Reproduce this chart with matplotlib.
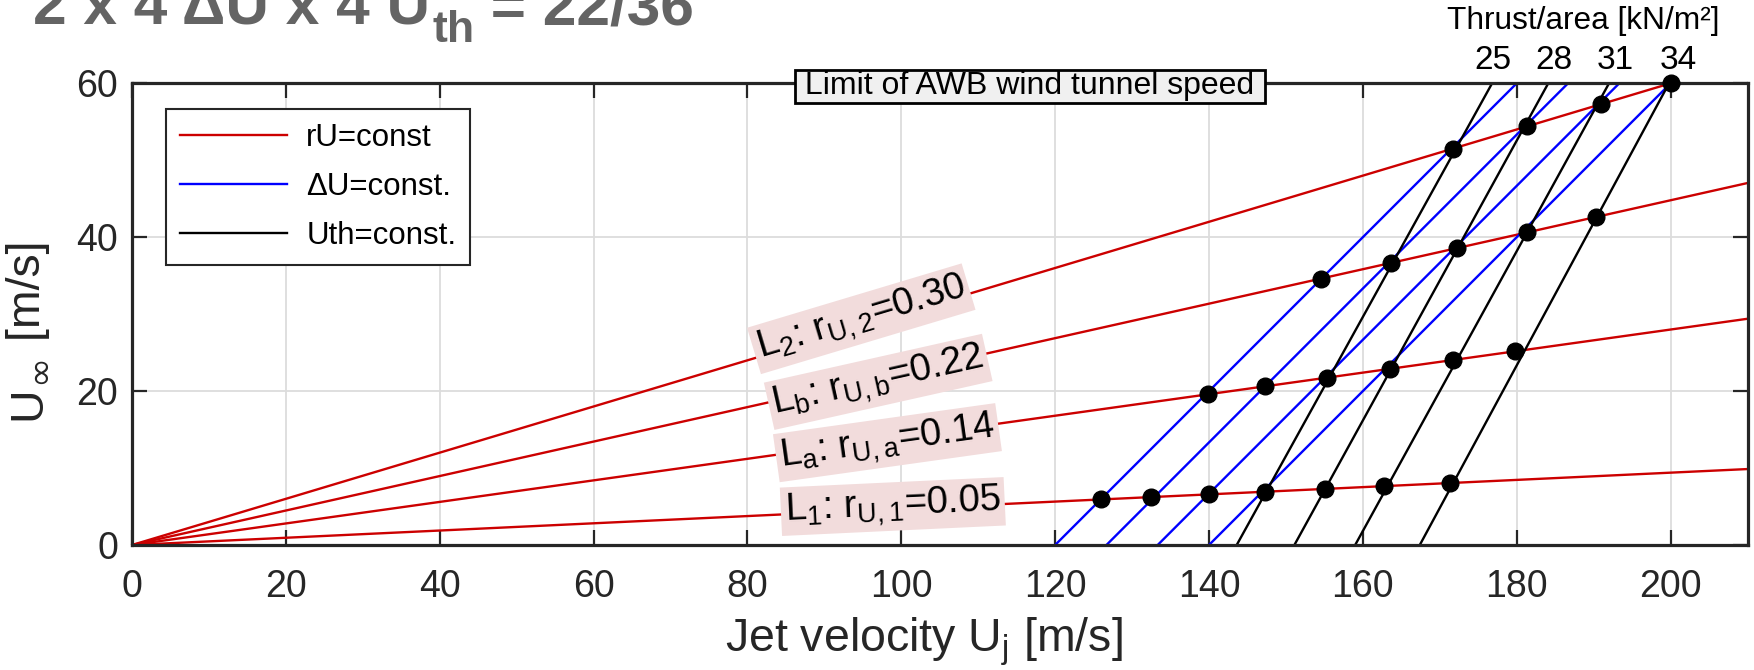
import matplotlib
matplotlib.use('Agg')
import matplotlib.pyplot as plt
from matplotlib.lines import Line2D
import numpy as np

plt.rcParams['font.family'] = ['Liberation Sans', 'DejaVu Sans']
plt.rcParams['mathtext.fontset'] = 'custom'
plt.rcParams['mathtext.rm'] = 'Liberation Sans'
plt.rcParams['mathtext.it'] = 'Liberation Sans:italic'
plt.rcParams['mathtext.bf'] = 'Liberation Sans:bold'

# ---------------- data ----------------
x_max = 210
y_max = 60
x_ticks = [0, 20, 40, 60, 80, 100, 120, 140, 160, 180, 200]
y_ticks = [0, 20, 40, 60]

# rU = const lines (U_inf / U_j)
ru_slopes = [0.047, 0.14, 0.224, 0.30]
ru_labels = [r'L$_{\mathrm{1}}$: r$_{\mathrm{U,1}}$=0.05',
             r'L$_{\mathrm{a}}$: r$_{\mathrm{U,a}}$=0.14',
             r'L$_{\mathrm{b}}$: r$_{\mathrm{U,b}}$=0.22',
             r'L$_{\mathrm{2}}$: r$_{\mathrm{U,2}}$=0.30']
ru_label_x = [98.9, 98.2, 97.0, 94.8]
ru_label_y = [5.0, 13.3, 21.2, 29.4]

# Delta U = const lines (U_j - U_inf)
du_values = [120.0, 126.67, 133.33, 140.0]

# U_th = const lines (read at U_inf = 0 and U_inf = 60)
uth_x_bottom = [143.6, 151.1, 159.0, 167.4]
uth_x_top = [176.8, 184.1, 192.0, 199.8]
thrust_values = ['25', '28', '31', '34']
thrust_label_x = [176.9, 184.9, 192.8, 201.0]

# operating points (U_j positions on each rU line)
dots_L1 = [126.0, 132.4, 140.0, 147.3, 155.1, 162.8, 171.3]
dots_La = [139.9, 147.3, 155.4, 163.5, 171.7, 179.8]
dots_Lb = [154.6, 163.6, 172.3, 181.3, 190.3]
dots_L2 = [171.7, 181.3, 190.9, 200.0]
dots_all = [dots_L1, dots_La, dots_Lb, dots_L2]

legend_labels = ['rU=const', 'ΔU=const.', 'Uth=const.']
title_parts = ['2 x 4 ΔU x 4 U', 'th', ' = 22/36']
ylabel_parts = ['U', '∞', ' [m/s]']

# ---------------- style ----------------
W, H = 1754, 670
fig = plt.figure(figsize=(W / 100, H / 100), dpi=100)
ax_l, ax_r, ax_b, ax_t = 132, 1747.5, 545, 83.3
ax = fig.add_axes([ax_l / W, 1 - ax_b / H, (ax_r - ax_l) / W, (ax_b - ax_t) / H])

RED = '#cc0000'
BLUE = '#0000ff'
AXC = '#262626'
FS_TICK = 27
FS_LAB = 33.5
LW = 1.7

for s in ru_slopes:
    ax.plot([0, x_max], [0, s * x_max], color=RED, lw=LW, zorder=3)
for du in du_values:
    ax.plot([du, du + y_max], [0, y_max], color=BLUE, lw=LW, zorder=3)
for xb, xt in zip(uth_x_bottom, uth_x_top):
    ax.plot([xb, xt], [0, y_max], color='black', lw=LW, zorder=3)

for s, d in zip(ru_slopes, dots_all):
    d = np.array(d)
    ax.plot(d, s * d, 'o', color='black', ms=12, zorder=6, clip_on=False)

for s, lab, lx, ly in zip(ru_slopes, ru_labels, ru_label_x, ru_label_y):
    ang = np.degrees(np.arctan(s))
    ax.text(lx, ly, lab, fontsize=27.5, rotation=ang, rotation_mode='anchor',
            ha='center', va='center', color='black', zorder=5,
            bbox=dict(boxstyle='square,pad=0.1', fc='#f2dcdc', ec='none'))

ax.text(116.7, 59.6, ' Limit of AWB wind tunnel speed ', fontsize=23,
        ha='center', va='center', color='black', zorder=7, clip_on=False,
        bbox=dict(boxstyle='square,pad=0.04', fc='#f0f0f0', ec='black', lw=2))

for t, tx in zip(thrust_values, thrust_label_x):
    ax.text(tx, 63.0, t, fontsize=24, ha='center', va='center', color='black',
            clip_on=False)
ax.text(188.7, 68.1, 'Thrust/area [kN/m²]', fontsize=22.8, ha='center',
        va='center', color='black', clip_on=False)

ax.set_xlim(0, x_max)
ax.set_ylim(0, y_max)
ax.set_xticks(x_ticks)
ax.set_yticks(y_ticks)
ax.grid(True, color='#dcdcdc', lw=1.3, zorder=0)
ax.set_axisbelow(True)
ax.xaxis.set_tick_params(which='major', direction='in', length=11, width=1.6,
                         colors=AXC, labelsize=FS_TICK, pad=17,
                         top=True, bottom=True)
ax.yaxis.set_tick_params(which='major', direction='in', length=11, width=1.6,
                         colors=AXC, labelsize=FS_TICK, pad=10,
                         left=True, right=True)
for sp in ax.spines.values():
    sp.set_linewidth(2.3)
    sp.set_color(AXC)
    sp.set_zorder(4)

ax.set_xlabel(r'Jet velocity U$_{\mathrm{j}}$ [m/s]', fontsize=FS_LAB, color=AXC)
ax.xaxis.label.set_va('baseline')
ax.xaxis.set_label_coords(0.49, (ax_b - 652) / (ax_b - ax_t))

handles = [Line2D([], [], color=RED, lw=LW),
           Line2D([], [], color=BLUE, lw=LW),
           Line2D([], [], color='black', lw=LW)]
leg = ax.legend(handles, legend_labels, loc='upper left',
                bbox_to_anchor=((165.6 - ax_l) / (ax_r - ax_l), (ax_b - 108.5) / (ax_b - ax_t)),
                borderaxespad=0, fontsize=22.5, fancybox=False, framealpha=1,
                edgecolor=AXC, handlelength=3.45, handletextpad=0.6,
                labelspacing=0.62, borderpad=0.45)
leg.get_frame().set_linewidth(1.5)
leg.set_zorder(8)

renderer = fig.canvas.get_renderer()

# y label composed of rotated pieces (large infinity subscript)
yb_x = 40.0
yl1 = fig.text(yb_x / W, 1 - 419.5 / H, ylabel_parts[0], fontsize=FS_LAB, color=AXC,
               rotation=90, rotation_mode='anchor', ha='left', va='baseline')
bb = yl1.get_window_extent(renderer)
yl2 = fig.text((yb_x + 9) / W, bb.y1 / H + 2 / H, ylabel_parts[1], fontsize=FS_LAB * 0.78,
               family=['DejaVu Sans'], color=AXC, rotation=90,
               rotation_mode='anchor', ha='left', va='baseline')
bb = yl2.get_window_extent(renderer)
fig.text(yb_x / W, bb.y1 / H, ylabel_parts[2], fontsize=FS_LAB, color=AXC,
         rotation=90, rotation_mode='anchor', ha='left', va='baseline')

# title with a manual, lowered subscript
TFS = 43.5
TCOL = '#646464'
base_y = 1 - 24.6 / H
t1 = fig.text(33 / W, base_y, title_parts[0], fontsize=TFS, fontweight='bold',
              color=TCOL, ha='left', va='baseline')
bb1 = t1.get_window_extent(renderer)
t2 = fig.text(bb1.x1 / W + 2 / W, base_y - 17 / H, title_parts[1], fontsize=TFS * 0.74,
              fontweight='bold', color=TCOL, ha='left', va='baseline')
bb2 = t2.get_window_extent(renderer)
fig.text(bb2.x1 / W, base_y, title_parts[2], fontsize=TFS, fontweight='bold',
         color=TCOL, ha='left', va='baseline')

fig.savefig('out.png', dpi=100)
